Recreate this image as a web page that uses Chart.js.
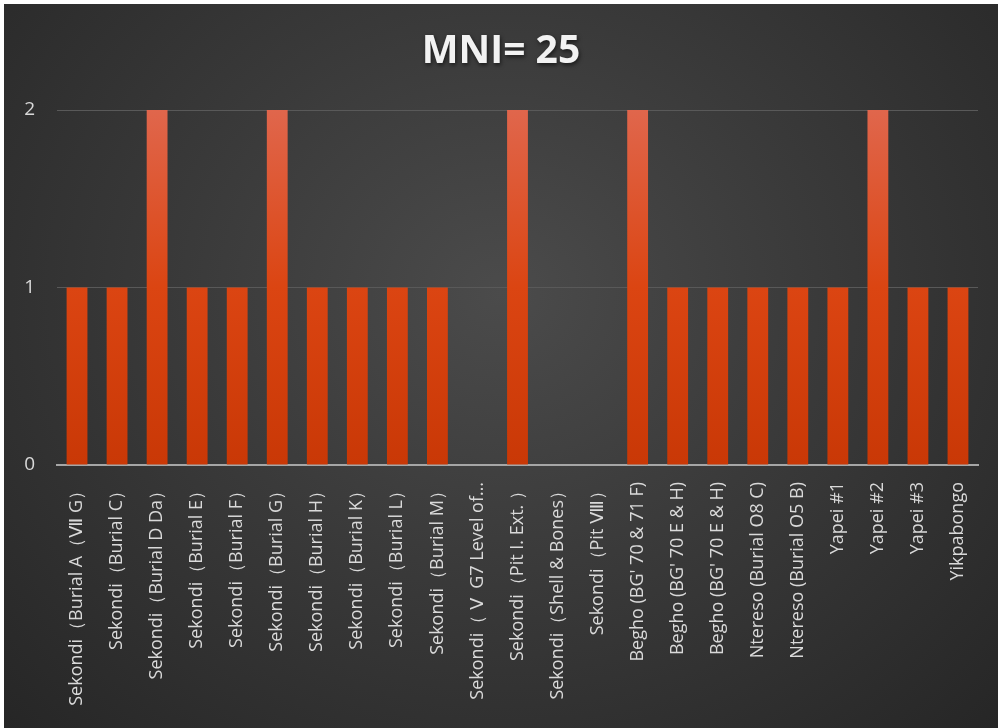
<!DOCTYPE html>
<html>
<head>
<meta charset="utf-8">
<script src="https://cdn.jsdelivr.net/npm/chart.js@4/dist/chart.umd.min.js"></script>
<style>
  html, body { margin: 0; padding: 0; background: #fff; }
  #wrap {
    position: absolute; left: 4px; top: 4px; width: 994px; height: 724px;
    background: radial-gradient(ellipse at 50% 40%, #4b4b4b 0%, #3a3a3a 45%, #262626 100%);
  }
</style>
</head>
<body>
<div id="wrap"><canvas id="mni"></canvas></div>
<script>
const sites = [
    "Sekondi（Burial A（Ⅶ G）", "Sekondi（Burial C）", "Sekondi（Burial D Da）",
    "Sekondi（Burial E）", "Sekondi（Burial F）", "Sekondi（Burial G）",
    "Sekondi（Burial H）", "Sekondi（Burial K）", "Sekondi（Burial L）",
    "Sekondi（Burial M）", "Sekondi（ Ⅴ  G7 Level of…", "Sekondi（Pit I. Ext. ）",
    "Sekondi（Shell & Bones）", "Sekondi（Pit Ⅷ）", "Begho (BG' 70 & 71 F)",
    "Begho (BG' 70 E & H)", "Begho (BG' 70 E & H)", "Ntereso (Burial O8 C)",
    "Ntereso (Burial O5 B)", "Yapei #1", "Yapei #2", "Yapei #3", "Yikpabongo"
];
const mni = [1, 1, 2, 1, 1, 2, 1, 1, 1, 1, 0, 2, 0, 0, 2, 1, 1, 1, 1, 1, 2, 1, 1];
const yTicks = [0, 1, 2];
const titleText = "MNI= 25";

const labelColor = "#d9d9d9";
const fontFam = "'Open Sans', Lato, sans-serif";

function barFill(context) {
    const area = context.chart.chartArea;
    if (!area) return "#d8431a";
    const g = context.chart.ctx.createLinearGradient(0, area.top, 0, area.bottom);
    g.addColorStop(0, "#e0664c");
    g.addColorStop(0.5, "#db4512");
    g.addColorStop(1, "#c93806");
    return g;
}

// title centred on the whole chart box, with a soft drop shadow
const titlePlugin = {
    id: "shadowTitle",
    afterDraw(chart) {
        const ctx = chart.ctx;
        ctx.save();
        ctx.font = "bold 39px " + fontFam;
        ctx.fillStyle = "#f2f2f2";
        ctx.textAlign = "center";
        ctx.textBaseline = "middle";
        ctx.shadowColor = "rgba(0,0,0,0.6)";
        ctx.shadowOffsetX = 1;
        ctx.shadowOffsetY = 2;
        ctx.shadowBlur = 4;
        ctx.fillText(titleText, chart.width / 2, 48);
        ctx.restore();
    }
};

new Chart(document.getElementById("mni"), {
    type: "bar",
    data: {
        labels: sites,
        datasets: [{
            data: mni,
            backgroundColor: barFill,
            borderWidth: 0,
            barPercentage: 0.52,
            categoryPercentage: 1
        }]
    },
    plugins: [titlePlugin],
    options: {
        responsive: true,
        maintainAspectRatio: false,
        animation: false,
        layout: { padding: { left: 0, right: 20, top: 106, bottom: 0 } },
        plugins: {
            legend: { display: false },
            tooltip: { enabled: false },
            title: { display: false }
        },
        scales: {
            x: {
                grid: { display: false, drawTicks: false },
                border: { color: "#a6a6a6", width: 2 },
                ticks: {
                    color: labelColor,
                    font: { family: fontFam, size: 18 },
                    maxRotation: 90,
                    minRotation: 90,
                    autoSkip: false,
                    padding: 17
                },
                afterFit: s => { s.height = 263; }
            },
            y: {
                min: 0,
                max: 2,
                afterBuildTicks: s => { s.ticks = yTicks.map(v => ({ value: v })); },
                grid: { color: "#595959", lineWidth: 1, drawTicks: false },
                border: { display: false },
                ticks: {
                    color: labelColor,
                    font: { family: fontFam, size: 19 },
                    padding: 22
                },
                afterFit: s => { s.width = 53; }
            }
        }
    }
});
</script>
</body>
</html>
